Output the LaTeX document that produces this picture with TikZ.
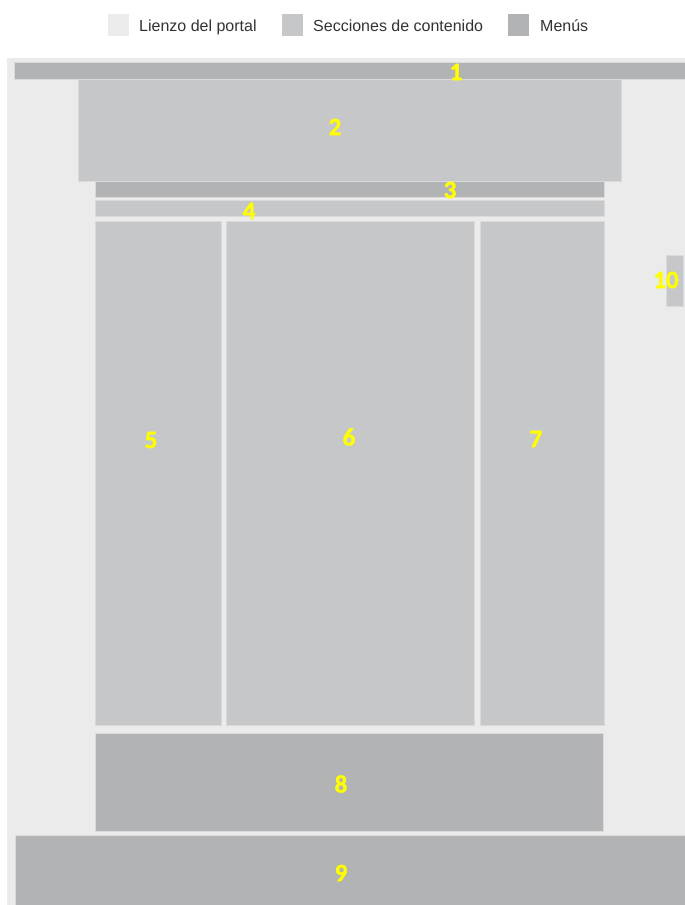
\documentclass[tikz,border=0pt]{standalone}
\usepackage{fontspec}
\setmainfont{Liberation Sans}
\newfontfamily\numfont{Carlito}[BoldFeatures={FakeBold=1.5}]
\definecolor{canvasc}{HTML}{EBEBEB}
\definecolor{sectc}{HTML}{C6C7C9}
\definecolor{menuc}{HTML}{B2B3B5}
\definecolor{edgec}{HTML}{DADADB}
\definecolor{numc}{HTML}{FFFF00}
\definecolor{legc}{HTML}{333333}
\newcommand{\blkbox}[6]{\node[#2, minimum width={(#5-#3)*1pt}, minimum height={(#6-#4)*1pt}] (#1) at ({(#3+#5)/2},{(#4+#6)/2}) {};}
\begin{document}
\begin{tikzpicture}[x=1pt,y=-1pt,
  blk/.style={draw=edgec, line width=0.8pt, inner sep=0pt, outer sep=0pt, rectangle},
  sect/.style={blk, fill=sectc},
  menub/.style={blk, fill=menuc},
  canv/.style={fill=canvasc, inner sep=0pt, outer sep=0pt, rectangle},
  num/.style={font=\numfont\bfseries\fontsize{25}{28}\selectfont, text=numc, inner sep=0pt},
  swatch/.style={inner sep=0pt, minimum width=21pt, minimum height=22pt, rectangle},
  legend/.style={font=\fontsize{16}{18}\selectfont, text=legc, anchor=base west, inner sep=0pt}]
\useasboundingbox[fill=white] (0,0) rectangle (685,905);
% legend
\node[swatch, fill=canvasc] (s1) at (118.5,25) {};
\node[legend] (l1) at (139,31.5) {Lienzo del portal};
\node[swatch, fill=sectc] (s2) at (292.5,25) {};
\node[legend] (l2) at (313,31.5) {Secciones de contenido};
\node[swatch, fill=menuc] (s3) at (518,25) {};
\node[legend] (l3) at (540,31.5) {Menús};
% canvas
\blkbox{canvas}{canv}{7}{58}{685}{905}
% blocks
\blkbox{b1}{menub}{14}{62}{686}{79}
\blkbox{b2}{sect}{78.6}{79}{621}{181.7}
\blkbox{b3}{menub}{95.6}{181.7}{604.6}{197.7}
\blkbox{b4}{sect}{95.6}{200.3}{604.6}{216}
\blkbox{b5}{sect}{95.6}{221}{221}{725}
\blkbox{b6}{sect}{226}{221}{474}{725}
\blkbox{b7}{sect}{480}{221}{604.6}{725}
\blkbox{b8}{menub}{95.6}{733}{603.6}{831.7}
\blkbox{b9}{menub}{15}{835}{686}{906}
\blkbox{b10}{sect}{666.7}{255.7}{683}{306}
% labels
\node[num] (n1) at (456,72) {1};
\node[num] (n2) at (335,127) {2};
\node[num] (n3) at (450,190) {3};
\node[num] (n4) at (249,211) {4};
\node[num] (n5) at (151,440) {5};
\node[num] (n6) at (349,437) {6};
\node[num] (n7) at (536,439) {7};
\node[num] (n8) at (341,784) {8};
\node[num] (n9) at (341,873) {9};
\node[num] (n10) at (666,280) {10};
\end{tikzpicture}
\end{document}
